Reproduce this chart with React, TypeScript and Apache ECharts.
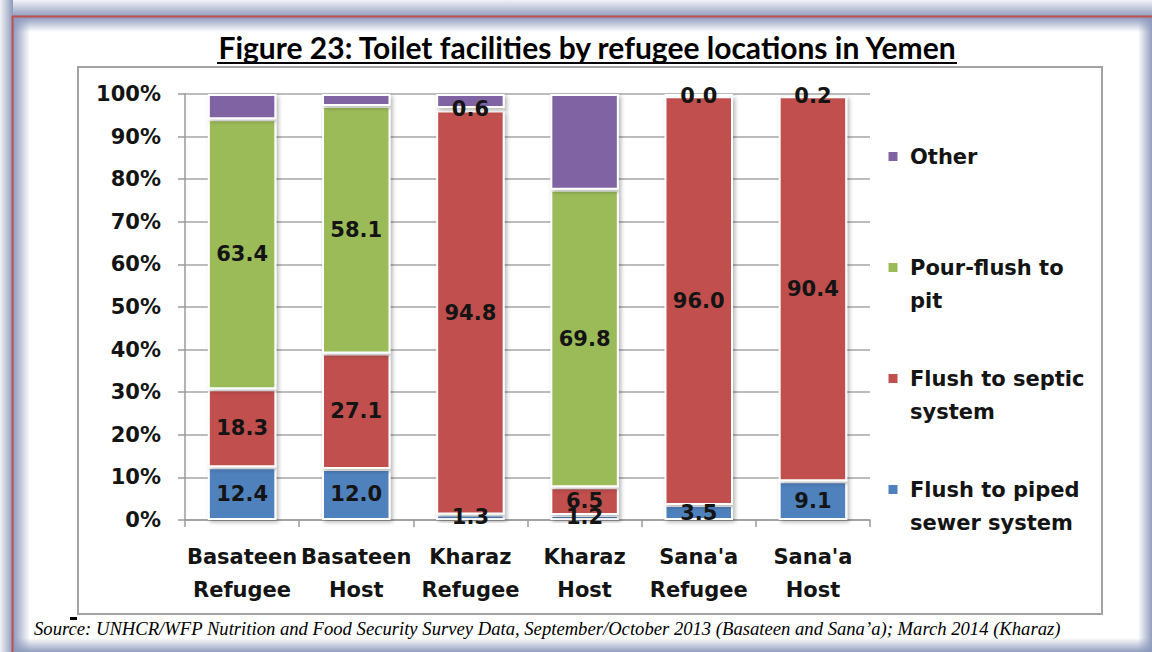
import React, { useEffect, useRef } from "react";
import * as echarts from "echarts";

const titleText = "Figure 23: Toilet facilities by refugee locations in Yemen";
const sourceText =
  "Source: UNHCR/WFP Nutrition and Food Security Survey Data, September/October 2013 (Basateen and Sana\u2019a); March 2014 (Kharaz)";

const categories = [
  "Basateen\nRefugee",
  "Basateen\nHost",
  "Kharaz\nRefugee",
  "Kharaz\nHost",
  "Sana'a\nRefugee",
  "Sana'a\nHost",
];
const piped = [12.4, 12.0, 1.3, 1.2, 3.5, 9.1];
const septic = [18.3, 27.1, 94.8, 6.5, 96.0, 90.4];
const pourFlush = [63.4, 58.1, 0.6, 69.8, 0.0, 0.2];
const other = [5.9, 2.8, 3.3, 22.5, 0.5, 0.3];

const seriesNames = [
  "Flush to piped sewer system",
  "Flush to septic system",
  "Pour-flush to pit",
  "Other",
];
const legendOrder = ["Other", "Pour-flush to pit", "Flush to septic system", "Flush to piped sewer system"];
const legendLines: Record<string, string[]> = {
  Other: ["Other"],
  "Pour-flush to pit": ["Pour-flush to", "pit"],
  "Flush to septic system": ["Flush to septic", "system"],
  "Flush to piped sewer system": ["Flush to piped", "sewer system"],
};
const colors = ["#4f81bd", "#c0504d", "#9bbb59", "#8064a2"];

const FONT = "'DejaVu Sans', sans-serif";
const TEXT_COLOR = "#141414";

export default function App() {
  const ref = useRef<HTMLDivElement>(null);
  useEffect(() => {
    if (!ref.current) return;
    const chart = echarts.init(ref.current, null, { renderer: "svg" });

    const ctx = document.createElement("canvas").getContext("2d")!;
    ctx.font = "bold 31px Lato";
    const tw = ctx.measureText(titleText).width || 740;
    const titleScale = 740 / tw;
    ctx.font = "italic 19px 'Liberation Serif'";
    const sw = ctx.measureText(sourceText).width || 1028;
    const srcScale = 1028 / sw;

    const blue = "rgba(140,153,188,";
    const series = [piped, septic, pourFlush, other].map((d, i) => ({
      name: seriesNames[i],
      type: "bar",
      stack: "total",
      data: d,
      barWidth: "60%",
      itemStyle: {
        color: colors[i],
        borderColor: "#ffffff",
        borderWidth: 2,
        shadowBlur: 4,
        shadowColor: "rgba(0,0,0,0.3)",
        shadowOffsetX: 2,
        shadowOffsetY: 2,
      },
      label: {
        show: i < 3,
        position: "inside",
        formatter: (p: any) => Number(p.value).toFixed(1),
        fontFamily: FONT,
        fontWeight: "bold",
        fontSize: 21,
        color: TEXT_COLOR,
      },
    }));

    const option: any = {
      animation: false,
      backgroundColor: "#ffffff",
      grid: { left: 185, right: 282, top: 94, bottom: 132, containLabel: false },
      legend: {
        data: legendOrder,
        orient: "vertical",
        left: 886.5,
        top: 107,
        padding: 0,
        itemGap: 12,
        itemWidth: 24,
        itemHeight: 11,
        icon: "path://M0 0H10V10H0Z",
        selectedMode: false,
        formatter: (name: string) => {
          const l = legendLines[name];
          return " \n" + l.join("\n") + (l.length === 1 ? "\n " : "");
        },
        textStyle: {
          fontFamily: FONT,
          fontWeight: "bold",
          fontSize: 21,
          lineHeight: 33,
          color: TEXT_COLOR,
        },
      },
      xAxis: {
        type: "category",
        data: categories,
        axisLine: { show: true, lineStyle: { color: "#9a9a9a", width: 1.5 } },
        axisTick: { show: true, length: 7, lineStyle: { color: "#9a9a9a", width: 1.5 } },
        axisLabel: {
          interval: 0,
          margin: 20,
          fontFamily: FONT,
          fontWeight: "bold",
          fontSize: 21,
          lineHeight: 33,
          color: TEXT_COLOR,
        },
        splitLine: { show: false },
      },
      yAxis: {
        type: "value",
        min: 0,
        max: 100,
        interval: 10,
        axisLine: { show: true, lineStyle: { color: "#9a9a9a", width: 1.5 } },
        axisTick: { show: true, length: 7, lineStyle: { color: "#9a9a9a", width: 1.5 } },
        splitLine: { show: true, lineStyle: { color: "#a6a6a6", width: 1.5 } },
        axisLabel: {
          formatter: "{value}%",
          margin: 24,
          fontFamily: FONT,
          fontWeight: "bold",
          fontSize: 21,
          color: TEXT_COLOR,
        },
      },
      graphic: [
        {
          type: "rect", z: -20, shape: { x: 0, y: 0, width: 1152, height: 17 },
          style: { fill: new echarts.graphic.LinearGradient(0, 0, 0, 1, [
            { offset: 0, color: "#f2f3f7" }, { offset: 1, color: "#8d9abb" }]) },
        },
        {
          type: "rect", z: -20, shape: { x: 0, y: 0, width: 13, height: 652 },
          style: { fill: new echarts.graphic.LinearGradient(0, 0, 1, 0, [
            { offset: 0, color: "#f2f3f7" }, { offset: 1, color: "#8d9abb" }]) },
        },
        {
          type: "rect", z: -19, shape: { x: 13, y: 17, width: 1139, height: 15 },
          style: { fill: new echarts.graphic.LinearGradient(0, 0, 0, 1, [
            { offset: 0, color: blue + "1)" }, { offset: 1, color: blue + "0)" }]) },
        },
        {
          type: "rect", z: -19, shape: { x: 13, y: 17, width: 17, height: 635 },
          style: { fill: new echarts.graphic.LinearGradient(0, 0, 1, 0, [
            { offset: 0, color: blue + "1)" }, { offset: 1, color: blue + "0)" }]) },
        },
        {
          type: "rect", z: -19, shape: { x: 1138, y: 17, width: 14, height: 635 },
          style: { fill: new echarts.graphic.LinearGradient(0, 0, 1, 0, [
            { offset: 0, color: blue + "0)" }, { offset: 1, color: blue + "0.95)" }]) },
        },
        {
          type: "rect", z: -19, shape: { x: 13, y: 638, width: 1139, height: 14 },
          style: { fill: new echarts.graphic.LinearGradient(0, 0, 0, 1, [
            { offset: 0, color: blue + "0)" }, { offset: 1, color: blue + "0.95)" }]) },
        },
        {
          type: "line", z: -18, shape: { x1: 12, y1: 16.5, x2: 1152, y2: 16.5 },
          style: { stroke: "#c0504d", lineWidth: 2 },
        },
        {
          type: "line", z: -18, shape: { x1: 12.5, y1: 16, x2: 12.5, y2: 652 },
          style: { stroke: "#c0504d", lineWidth: 2 },
        },
        {
          type: "rect", z: -17, shape: { x: 78, y: 67, width: 1024, height: 547 },
          style: { fill: "#ffffff", stroke: "#a3a3a3", lineWidth: 2 },
        },
        {
          type: "rect", z: -16, shape: { x: 70, y: 617, width: 7, height: 3 },
          style: { fill: "#000000" },
        },
        {
          type: "text", z: 10, x: 587, y: 47, scaleX: titleScale,
          style: {
            text: titleText, fontFamily: "Lato", fontWeight: "bold", fontSize: 31,
            fill: "#000000", align: "center", verticalAlign: "middle",
          },
        },
        {
          type: "line", z: 10, shape: { x1: 217, y1: 63, x2: 957, y2: 63 },
          style: { stroke: "#000000", lineWidth: 2 },
        },
        {
          type: "text", z: 10, x: 34, y: 628, scaleX: srcScale,
          style: {
            text: sourceText, fontFamily: "'Liberation Serif', serif", fontStyle: "italic", fontSize: 19,
            fill: "#000000", align: "left", verticalAlign: "middle",
          },
        },
      ],
      series,
    };
    chart.setOption(option);
    return () => chart.dispose();
  }, []);
  return (
    <div
      ref={ref}
      style={{ position: "fixed", left: 0, top: 0, width: 1152, height: 652 }}
    />
  );
}
